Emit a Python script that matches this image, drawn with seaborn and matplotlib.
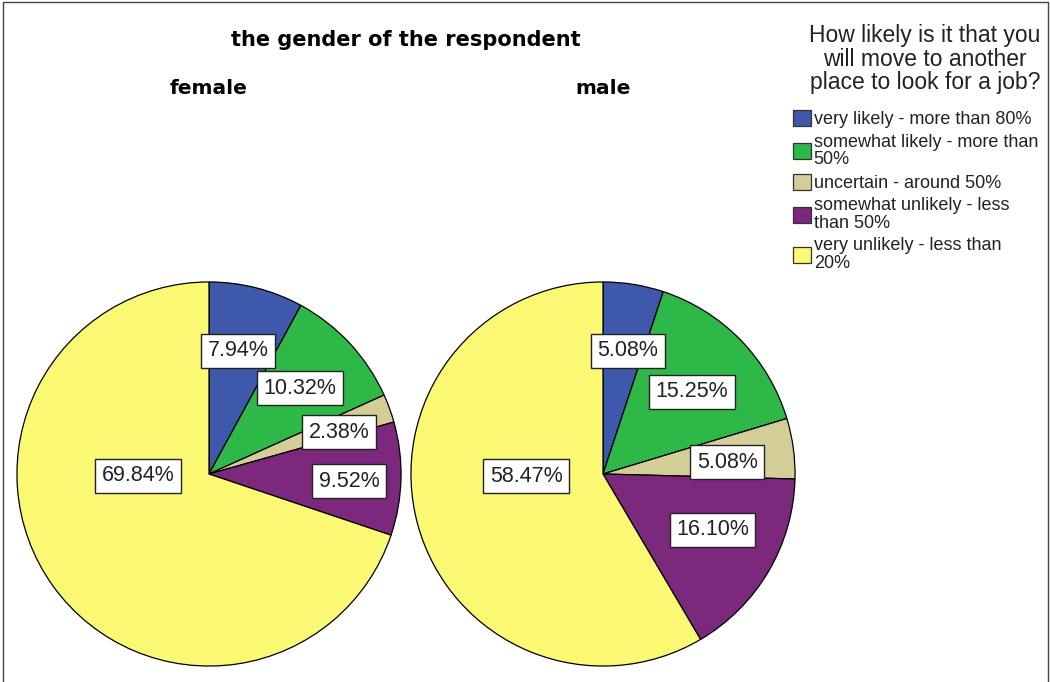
import matplotlib
matplotlib.use("Agg")
import matplotlib.pyplot as plt
import seaborn as sns
import numpy as np
from matplotlib.lines import Line2D
from matplotlib.patches import Patch

# ---- data ----
categories = [
    "very likely - more than 80%",
    "somewhat likely - more than\n50%",
    "uncertain - around 50%",
    "somewhat unlikely - less\nthan 50%",
    "very unlikely - less than\n20%",
]
groups = ["female", "male"]
female_pct = [7.94, 10.32, 2.38, 9.52, 69.84]
male_pct = [5.08, 15.25, 5.08, 16.10, 58.47]
main_title = "the gender of the respondent"
legend_title = "How likely is it that you\nwill move to another\nplace to look for a job?"

# ---- style ----
sns.set_theme(style="white")
plt.rcParams["font.family"] = ["Liberation Sans", "DejaVu Sans"]
colors = sns.color_palette(["#3E58AC", "#2EB848", "#D3CE97", "#7C287D", "#FBF873"])

# label placement (polar: angle in degrees, radius as fraction of pie radius)
label_pos = {
    "female": [(76.8, 0.66), (43.4, 0.65), (17.8, 0.71), (-2.9, 0.73), (181.6, 0.37)],
    "male": [(78.6, 0.655), (42.7, 0.63), (5.5, 0.65), (-27.0, 0.64), (181.5, 0.40)],
}

W, H = 1050, 682
fig = plt.figure(figsize=(W / 100, H / 100), dpi=100)
fig.patch.set_facecolor("white")

R = 193
centers = {"female": (209, 474), "male": (603, 474)}
data = {"female": female_pct, "male": male_pct}

for g in groups:
    cx, cy = centers[g]
    ax = fig.add_axes([(cx - R) / W, (H - cy - R) / H, 2 * R / W, 2 * R / H])
    ax.pie(
        data[g],
        colors=colors,
        startangle=90,
        counterclock=False,
        radius=1.0,
        wedgeprops=dict(edgecolor="black", linewidth=0.9),
    )
    for v, (ang, rr) in zip(data[g], label_pos[g]):
        a = np.deg2rad(ang)
        ax.text(
            rr * np.cos(a), rr * np.sin(a), f"{v:.2f}%",
            ha="center", va="center", fontsize=15.5, color="#222222",
            bbox=dict(boxstyle="square,pad=0.3", facecolor="white",
                      edgecolor="#222222", linewidth=1.0),
        )
    ax.set_xlim(-1.005, 1.005)
    ax.set_ylim(-1.005, 1.005)
    ax.set_aspect("equal")
    ax.axis("off")
    fig.text(cx / W, 1 - 88 / H, g, ha="center", va="center",
             fontsize=14.5, fontweight="bold", family="DejaVu Sans", color="black")

fig.text(406 / W, 1 - 40 / H, main_title, ha="center", va="center",
         fontsize=15, fontweight="bold", family="DejaVu Sans", color="black")

fig.text(925 / W, 1 - 59 / H, legend_title, ha="center", va="center",
         fontsize=16.5, color="#222222", linespacing=1.05)

handles = [Patch(facecolor=c, edgecolor="#333333", linewidth=0.9) for c in colors]
leg = fig.legend(
    handles, categories,
    loc="upper left", bbox_to_anchor=(793 / W, 1 - 110 / H),
    frameon=False, fontsize=13, handlelength=1.0, handleheight=1.0,
    handletextpad=0.15, labelspacing=0.3, borderaxespad=0, borderpad=0,
)
for t in leg.get_texts():
    t.set_color("#222222")
    t.set_linespacing(1.05)

# outer border (left, top, right)
for xs, ys in [((2.5 / W, 2.5 / W), (0, 1 - 1.5 / H)),
               ((2.5 / W, 1 - 2.5 / W), (1 - 1.5 / H, 1 - 1.5 / H)),
               ((1 - 2.5 / W, 1 - 2.5 / W), (0, 1 - 1.5 / H))]:
    fig.add_artist(Line2D(xs, ys, transform=fig.transFigure, color="#444444", linewidth=1.0))

fig.savefig("out.png", dpi=100, facecolor="white")
